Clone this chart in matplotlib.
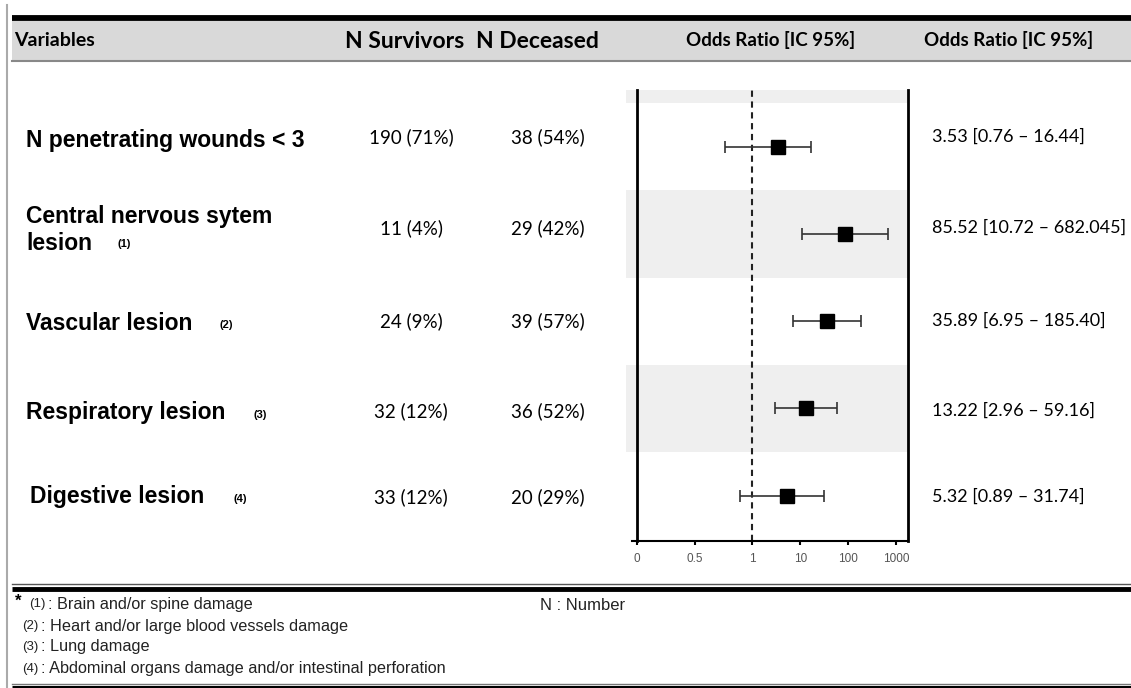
import numpy as np
import matplotlib
matplotlib.use('Agg')
import matplotlib.pyplot as plt
from matplotlib.patches import Rectangle

plt.rcParams['font.family'] = ['Liberation Sans', 'DejaVu Sans']

variables = ['N penetrating wounds < 3', 'Central nervous sytem\nlesion', 'Vascular lesion',
             'Respiratory lesion', 'Digestive lesion']
notes = ['', '(1)', '(2)', '(3)', '(4)']
survivors = ['190 (71%)', '11 (4%)', '24 (9%)', '32 (12%)', '33 (12%)']
deceased = ['38 (54%)', '29 (42%)', '39 (57%)', '36 (52%)', '20 (29%)']
odds = np.array([3.53, 85.52, 35.89, 13.22, 5.32])
ci_low = np.array([0.76, 10.72, 6.95, 2.96, 0.89])
ci_high = np.array([16.44, 682.045, 185.40, 59.16, 31.74])
or_labels = ['3.53 [0.76 \u2013 16.44]', '85.52 [10.72 \u2013 682.045]', '35.89 [6.95 \u2013 185.40]',
             '13.22 [2.96 \u2013 59.16]', '5.32 [0.89 \u2013 31.74]']
ticks = [0, 0.5, 1, 10, 100, 1000]
tick_labels = ['0', '0.5', '1', '10', '100', '1000']
footnotes = [('(1)', ': Brain and/or spine damage'),
             ('(2)', ': Heart and/or large blood vessels damage'),
             ('(3)', ': Lung damage'),
             ('(4)', ': Abdominal organs damage and/or intestinal perforation')]

W, H = 1131, 688


def fwd(x):          # linear between 0 and 1, log10 above 1
    x = np.asarray(x, dtype=float)
    return np.where(x <= 1, 2.4 * x, 2.4 + np.log10(np.clip(x, 1, None)))


def inv(u):
    u = np.asarray(u, dtype=float)
    return np.where(u <= 2.4, u / 2.4, 10 ** (np.clip(u, 2.4, 12) - 2.4))


fig = plt.figure(figsize=(W / 100, H / 100), dpi=100)

# table background, pixel coordinates
bg = fig.add_axes([0, 0, 1, 1])
bg.set_xlim(0, W)
bg.set_ylim(H, 0)
bg.axis('off')

bg.plot([7, 7], [5, H], color='#aaaaaa', lw=1.5)
bg.plot([12, W], [17.5, 17.5], color='black', lw=4.2, solid_capstyle='butt')
bg.add_patch(Rectangle((12, 21), W - 12, 39, color='#d9d9d9', lw=0))
bg.plot([12, W], [60.5, 60.5], color='#888888', lw=1.5)

hfont = ['Lato', 'DejaVu Sans']
bg.text(14, 40, 'Variables', fontsize=14, fontweight='bold', family=hfont, va='center')
bg.text(345, 42, 'N Survivors', fontsize=16.5, fontweight='bold', family=hfont, va='center')
bg.text(476, 42, 'N Deceased', fontsize=16.5, fontweight='bold', family=hfont, va='center')
bg.text(771, 40, 'Odds Ratio [IC 95%]', fontsize=13.5, fontweight='bold', family=hfont,
        va='center', ha='center')
bg.text(1009, 40, 'Odds Ratio [IC 95%]', fontsize=13.5, fontweight='bold', family=hfont,
        va='center', ha='center')

row_y = [140, 230, 323, 413, 497]
num_y = [137, 228, 321, 411, 497]
label_x = [26, 26, 26, 26, 30]
note_x = [0, 118, 219, 253, 233]
for i in range(len(variables)):
    y = row_y[i]
    lines = variables[i].split('\n')
    if len(lines) > 1:
        bg.text(label_x[i], y - 13, lines[0], fontsize=16.5, fontweight='bold', va='center')
        bg.text(label_x[i], y + 13, lines[1], fontsize=16.5, fontweight='bold', va='center')
        ny = y + 14
    else:
        bg.text(label_x[i], y, lines[0], fontsize=16.5, fontweight='bold', va='center')
        ny = y + 2
    if notes[i]:
        bg.text(note_x[i], ny, notes[i], fontsize=8, fontweight='bold', va='center')
    bg.text(411, num_y[i], survivors[i], fontsize=13.5, family=hfont, va='center', ha='center')
    bg.text(548, num_y[i], deceased[i], fontsize=13.5, family=hfont, va='center', ha='center')
    bg.text(932, num_y[i], or_labels[i], fontsize=13, family=hfont, va='center')

# footer
bg.plot([12, W], [584, 584], color='#555555', lw=1)
bg.plot([12, W], [588.5, 588.5], color='black', lw=3.5, solid_capstyle='butt')
bg.plot([12, W], [683.5, 683.5], color='#777777', lw=1)
bg.plot([12, W], [686.5, 686.5], color='black', lw=2.2, solid_capstyle='butt')
bg.text(15, 601, '*', fontsize=12, va='center', fontweight='bold')
foot_y = [604, 626, 647, 669]
for (tag, txt), fy, fx in zip(footnotes, foot_y, [29, 22, 22, 22]):
    bg.text(fx, fy, tag, fontsize=9.5, va='center', color='#222222')
    bg.text(fx + 19, fy, txt, fontsize=11.7, va='center', color='#222222')
bg.text(540, 605, 'N : Number', fontsize=12, va='center', color='#222222')

# forest plot
ax = fig.add_axes([626 / W, (H - 541) / H, 282 / W, 451 / H])
ax.set_facecolor('none')
ax.set_xscale('function', functions=(fwd, inv))
ax.set_xlim(float(inv(-11 / 48)), float(inv(271 / 48)))
y = np.arange(len(odds))
ax.set_ylim(4.52, -0.65)
for k in (-1, 1, 3):
    ax.axhspan(k - 0.5, k + 0.5, color='#efefef', lw=0, zorder=0)
ax.axvline(1, color='#222222', ls=(0, (3, 2.2)), lw=1.5, zorder=1)
ax.errorbar(odds, y, xerr=[odds - ci_low, ci_high - odds], fmt='s', color='black', ms=10,
            ecolor='#333333', elinewidth=1.2, capsize=4.5, capthick=1.2, zorder=3)

ax.spines['top'].set_visible(False)
ax.spines['left'].set_position(('data', 0))
ax.spines['left'].set_linewidth(2)
ax.spines['right'].set_linewidth(2)
ax.spines['bottom'].set_linewidth(1.5)
ax.spines['bottom'].set_bounds(-0.045, float(inv(271 / 48)))
ax.set_yticks([])
ax.set_xticks(ticks)
ax.set_xticklabels(tick_labels)
ax.xaxis.set_minor_locator(matplotlib.ticker.NullLocator())
ax.tick_params(axis='x', length=3, width=1.5, labelsize=8.5, labelcolor='#555555', pad=6)

fig.savefig('out.png', dpi=100)
